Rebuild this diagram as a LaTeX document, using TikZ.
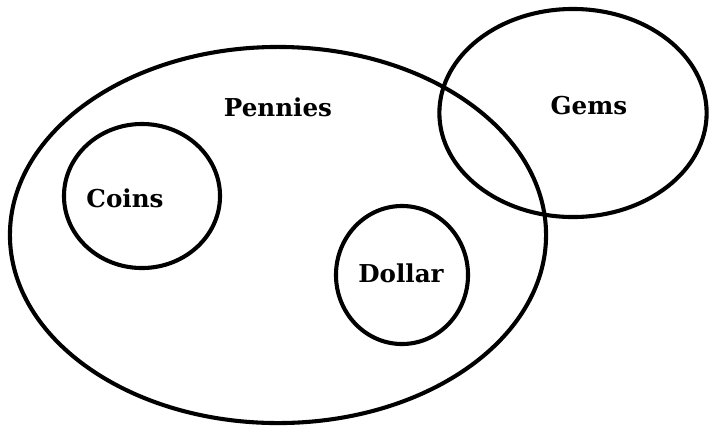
\documentclass[tikz,border=0pt]{standalone}
\usepackage{fontspec}
\setmainfont{DejaVu Serif}
\usetikzlibrary{shapes.geometric,positioning}

\begin{document}
\begin{tikzpicture}[x=0.025cm, y=-0.025cm,
  every node/.style={font=\bfseries\fontsize{17.5}{20}\selectfont},
  setring/.style={ellipse, draw, line width=2.9pt, inner sep=0pt},
  setname/.style={inner sep=0pt}
]
  \useasboundingbox (0,0) rectangle (710,430);

  %========== sets ==========
  \node[setring, minimum width=13.4cm, minimum height=9.4cm] (pennies) at (278,235) {};
  \node[setring, minimum width=6.68cm, minimum height=5.2cm] (gems) at (573,113) {};
  \node[setring, minimum width=3.9cm, minimum height=3.6cm] (coins) at (142,196) {};
  \node[setring, minimum width=3.3cm, minimum height=3.45cm] (dollar) at (402,275) {};

  %========== names ==========
  \node[setname] (penniesname) at (278,107) {Pennies};
  \node[setname] (gemsname) at (589,106) {Gems};
  \node[setname] (coinsname) at (125,198) {Coins};
  \node[setname] (dollarname) at (401,273) {Dollar};

\end{tikzpicture}
\end{document}
